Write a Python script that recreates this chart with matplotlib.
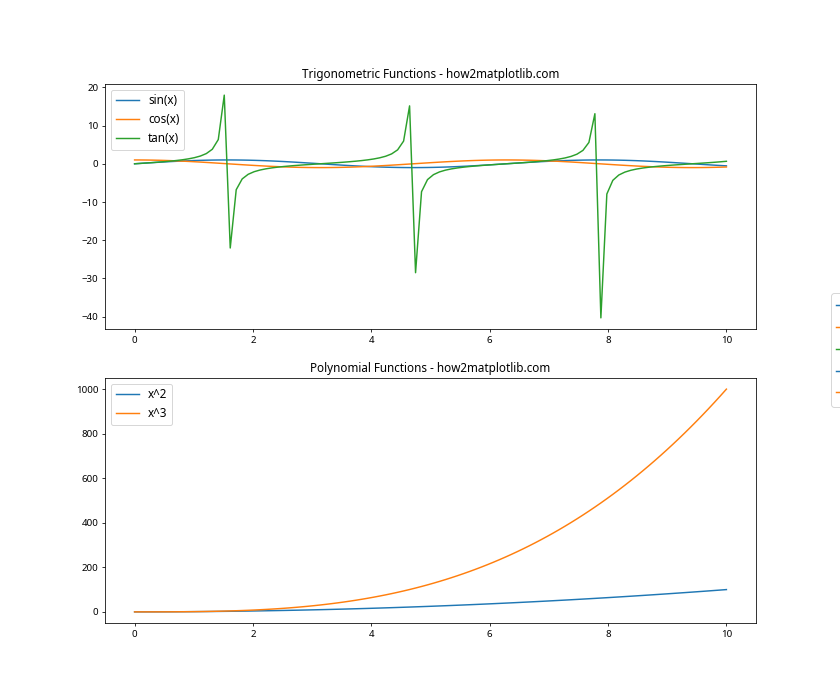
import numpy as np
import matplotlib
matplotlib.use("Agg")
import matplotlib.pyplot as plt

plt.rcParams['font.family'] = ['Noto Sans', 'DejaVu Sans']

# sampled domain and plotted functions (as named in the legends)
x = np.linspace(0, 10, 100)
trig_labels = ['sin(x)', 'cos(x)', 'tan(x)']
trig_values = [np.sin(x), np.cos(x), np.tan(x)]
poly_labels = ['x^2', 'x^3']
poly_values = [x ** 2, x ** 3]
titles = ['Trigonometric Functions - how2matplotlib.com',
          'Polynomial Functions - how2matplotlib.com']

fig, (ax1, ax2) = plt.subplots(2, 1, figsize=(12, 10), dpi=70)

lines = []
for lab, y in zip(trig_labels, trig_values):
    lines += ax1.plot(x, y, label=lab)
ax1.set_title(titles[0])
ax1.legend(fontsize=12, loc='upper left')

for lab, y in zip(poly_labels, poly_values):
    lines += ax2.plot(x, y, label=lab)
ax2.set_title(titles[1])
ax2.legend(fontsize=12, loc='upper left')

fig.legend(lines, trig_labels + poly_labels, loc='center left',
           bbox_to_anchor=(0.981, 0.5), fontsize=14)

fig.savefig('out.png', dpi=70)
